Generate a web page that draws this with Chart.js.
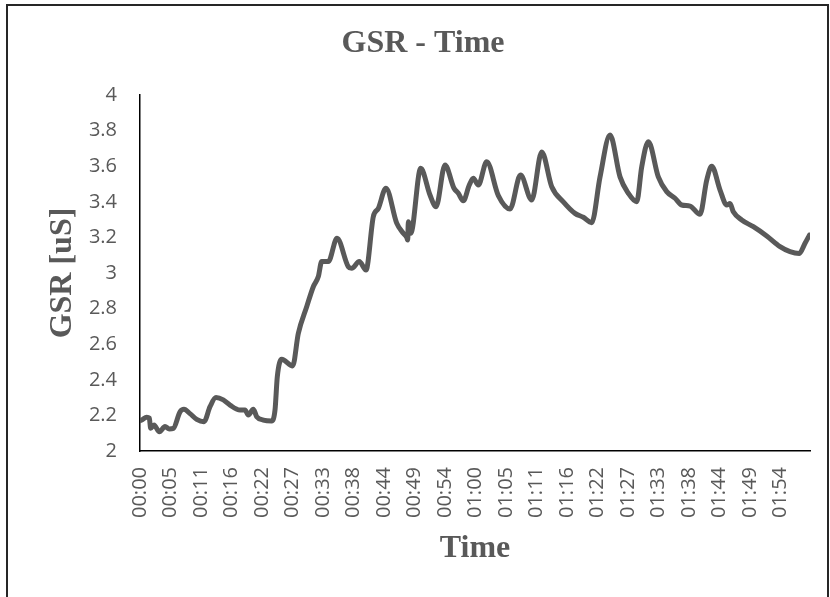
<!DOCTYPE html>
<html>
<head>
<meta charset="utf-8">
<script src="https://cdn.jsdelivr.net/npm/chart.js@4.4.1/dist/chart.umd.min.js"></script>
<style>
  html, body { margin: 0; padding: 0; background: #fff; overflow: hidden; }
  #wrap { position: relative; width: 830px; height: 597px; }
  #frame { position: absolute; left: 6px; top: 4px; width: 823px; height: 700px; box-sizing: border-box; border: 2px solid #262626; pointer-events: none; }
  canvas { position: absolute; left: 0; top: 0; }
</style>
</head>
<body>
<div id="wrap">
  <canvas id="c" width="830" height="597"></canvas>
  <div id="frame"></div>
</div>
<script>
// Time (minutes) of digitized samples
const timeMin = [0, 0.3, 1.2, 1.66, 1.91, 2.5, 3.45, 4.47, 5.23, 5.95, 7.15, 7.86, 8.93, 10.13, 11.43, 12.51, 13.58, 14.88, 16.08, 17.87, 18.76, 19.35, 20.24, 20.85, 22.03, 23.53, 24.12, 24.53, 25.32, 27.28, 28.28, 29.78, 30.96, 31.86, 32.46, 33.64, 35.2, 37.22, 37.82, 39.18, 40.38, 41.68, 42.58, 43.95, 45.86, 47.04, 47.65, 47.83, 47.94, 48.37, 50.15, 51.81, 52.89, 54.49, 56.1, 56.87, 57.76, 58.83, 59.55, 60.44, 61.94, 64.02, 66.11, 67.98, 69.98, 71.77, 73.56, 75.63, 77.72, 79.2, 80.7, 82.19, 83.97, 85.76, 87.24, 88.74, 89.64, 90.82, 92.6, 94.1, 95.59, 96.78, 98.27, 100.05, 101.25, 102.14, 103.63, 104.82, 105.41, 106.0, 107.5, 109.58, 111.97, 114.35, 116.13, 117.79, 118.81, 119.6];
// GSR values [uS]
const gsr = [2.17, 2.174, 2.19, 2.185, 2.128, 2.146, 2.108, 2.137, 2.124, 2.127, 2.22, 2.234, 2.21, 2.178, 2.165, 2.249, 2.30, 2.287, 2.258, 2.23, 2.23, 2.202, 2.234, 2.193, 2.174, 2.169, 2.23, 2.417, 2.515, 2.478, 2.66, 2.81, 2.923, 2.98, 3.064, 3.064, 3.195, 3.035, 3.026, 3.064, 3.017, 3.316, 3.363, 3.476, 3.28, 3.223, 3.20, 3.185, 3.288, 3.223, 3.588, 3.438, 3.372, 3.607, 3.476, 3.448, 3.406, 3.494, 3.532, 3.494, 3.625, 3.435, 3.36, 3.55, 3.41, 3.68, 3.485, 3.40, 3.335, 3.313, 3.283, 3.54, 3.775, 3.54, 3.448, 3.40, 3.597, 3.738, 3.54, 3.457, 3.42, 3.382, 3.376, 3.33, 3.522, 3.60, 3.466, 3.382, 3.39, 3.344, 3.298, 3.26, 3.208, 3.148, 3.12, 3.11, 3.167, 3.213];
// X tick labels (one every LABEL_STEP minutes)
const xTickLabels = ['00:00','00:05','00:11','00:16','00:22','00:27','00:33','00:38','00:44','00:49','00:54','01:00','01:05','01:11','01:16','01:22','01:27','01:33','01:38','01:44','01:49','01:54'];
const LABEL_STEP = 5.45;
const X_MAX = 119.7;
// Y tick values
const yTicks = [2, 2.2, 2.4, 2.6, 2.8, 3, 3.2, 3.4, 3.6, 3.8, 4];

const GREY = '#595959';
const points = timeMin.map((t, i) => ({ x: t, y: gsr[i] }));

new Chart(document.getElementById('c'), {
  type: 'line',
  data: {
    datasets: [{
      data: points,
      borderColor: GREY,
      borderWidth: 5,
      pointRadius: 0,
      fill: false,
      cubicInterpolationMode: 'monotone',
      borderCapStyle: 'round',
      borderJoinStyle: 'round'
    }]
  },
  options: {
    responsive: false,
    animation: false,
    layout: { padding: { left: 36, right: 20, top: 0, bottom: 0 } },
    plugins: {
      legend: { display: false },
      tooltip: { enabled: false },
      title: {
        display: true,
        text: 'GSR - Time',
        color: GREY,
        font: { family: 'Liberation Serif', size: 32, weight: 'bold' },
        padding: { top: 25, bottom: 31.6 }
      }
    },
    scales: {
      x: {
        type: 'linear',
        min: 0,
        max: X_MAX,
        grid: { display: false, drawTicks: false },
        border: { display: true, color: '#000', width: 1.5 },
        afterBuildTicks: (s) => { s.ticks = xTickLabels.map((l, i) => ({ value: i * LABEL_STEP })); },
        afterFit: (s) => { s.height = 146; },
        ticks: {
          autoSkip: false,
          maxRotation: 90,
          minRotation: 90,
          padding: 16,
          color: GREY,
          font: { family: 'Open Sans', size: 20 },
          callback: (v, i) => xTickLabels[i]
        },
        title: {
          display: true,
          text: 'Time',
          color: GREY,
          font: { family: 'Liberation Serif', size: 32, weight: 'bold' },
          padding: { top: 0, bottom: 28.8 }
        }
      },
      y: {
        min: 2,
        max: 4,
        grid: { display: false, drawTicks: false },
        border: { display: true, color: '#000', width: 1.5 },
        afterBuildTicks: (s) => { s.ticks = yTicks.map(v => ({ value: v })); },
        afterFit: (s) => { s.width = 104; },
        ticks: {
          padding: 23,
          color: GREY,
          font: { family: 'Open Sans', size: 20 },
          callback: (v) => String(Number(v.toFixed(1)))
        },
        title: {
          display: true,
          text: 'GSR [uS]',
          color: GREY,
          font: { family: 'Liberation Serif', size: 32, weight: 'bold' },
          padding: { top: 8, bottom: 0 }
        }
      }
    }
  }
});
</script>
</body>
</html>
